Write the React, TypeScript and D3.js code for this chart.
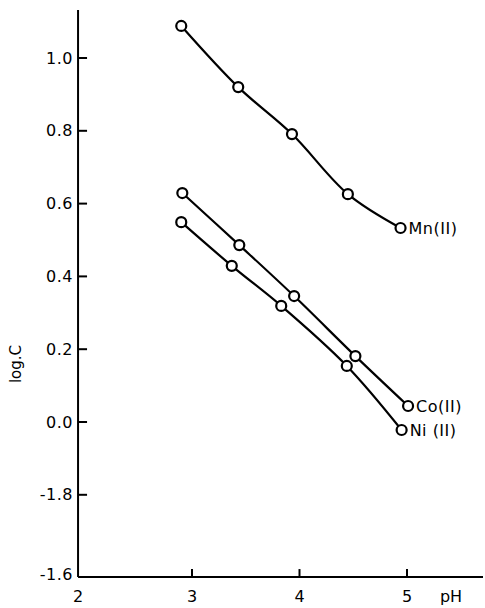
import { useEffect, useRef } from "react";
import * as d3 from "d3";

const phMn = [2.9, 3.43, 3.93, 4.45, 4.94];
const logMn = [1.088, 0.92, 0.791, 0.626, 0.533];
const phCo = [2.91, 3.44, 3.95, 4.52, 5.01];
const logCo = [0.629, 0.486, 0.346, 0.181, 0.044];
const phNi = [2.9, 3.37, 3.83, 4.44, 4.95];
const logNi = [0.549, 0.429, 0.319, 0.154, -0.022];
const seriesNames = ["Mn(II)", "Co(II)", "Ni (II)"];

const xTickValues = [2, 3, 4, 5];
const xTickLabels = ["2", "3", "4", "5"];
const yTickValues = [1.0, 0.8, 0.6, 0.4, 0.2, 0.0, -0.2];
const yTickLabels = ["1.0", "0.8", "0.6", "0.4", "0.2", "0.0", "-1.8"];
const yBottomLabel = "-1.6";

export default function App() {
  const width = 485;
  const height = 608;
  const svgRef = useRef<SVGSVGElement>(null);

  useEffect(() => {
    const svg = d3.select(svgRef.current);
    svg.selectAll("*").remove();

    const xMin = 1.94;
    const yMin = -0.426;
    const yMax = 1.132;
    const font = "'DejaVu Sans', sans-serif";

    const x = d3.scaleLinear().domain([3, 5]).range([192, 407]);
    const y = d3.scaleLinear().domain([0, 1]).range([422, 58]);

    const x0 = x(xMin);
    const y0 = y(yMin);

    // axes
    svg
      .append("line")
      .attr("x1", x0)
      .attr("x2", x0)
      .attr("y1", y(yMax))
      .attr("y2", y0)
      .attr("stroke", "#000")
      .attr("stroke-width", 2);
    svg
      .append("line")
      .attr("x1", x0)
      .attr("x2", 483)
      .attr("y1", y0)
      .attr("y2", y0)
      .attr("stroke", "#000")
      .attr("stroke-width", 2);

    // y ticks
    const yt = svg.append("g");
    yTickValues.forEach((v, i) => {
      yt.append("line")
        .attr("x1", x0)
        .attr("x2", x0 + 9)
        .attr("y1", y(v))
        .attr("y2", y(v))
        .attr("stroke", "#000")
        .attr("stroke-width", 2);
      yt.append("text")
        .attr("x", x0 - 5)
        .attr("y", y(v))
        .attr("dy", "0.35em")
        .attr("text-anchor", "end")
        .style("font-family", font)
        .style("font-size", "16px")
        .style("letter-spacing", "0.5px")
        .text(yTickLabels[i]);
    });
    yt.append("text")
      .attr("x", x0 - 5)
      .attr("y", y0)
      .attr("dy", "0.2em")
      .attr("text-anchor", "end")
      .style("font-family", font)
      .style("font-size", "16px")
      .style("letter-spacing", "0.5px")
      .text(yBottomLabel);

    // x ticks
    const xt = svg.append("g");
    xTickValues.forEach((v, i) => {
      if (v > 2) {
        xt.append("line")
          .attr("x1", x(v))
          .attr("x2", x(v))
          .attr("y1", y0)
          .attr("y2", y0 - 8)
          .attr("stroke", "#000")
          .attr("stroke-width", 2);
      }
      xt.append("text")
        .attr("x", v === 2 ? x0 : x(v))
        .attr("y", y0 + 19)
        .attr("dy", "0.35em")
        .attr("text-anchor", "middle")
        .style("font-family", font)
        .style("font-size", "16px")
        .text(xTickLabels[i]);
    });

    // axis labels
    svg
      .append("text")
      .attr("x", 451)
      .attr("y", y0 + 19)
      .attr("dy", "0.35em")
      .attr("text-anchor", "middle")
      .style("font-family", font)
      .style("font-size", "16px")
      .text("pH");
    svg
      .append("text")
      .attr("transform", "rotate(-90)")
      .attr("x", -364)
      .attr("y", 16)
      .attr("dy", "0.35em")
      .attr("text-anchor", "middle")
      .style("font-family", font)
      .style("font-size", "15px")
      .text("log.C");

    const series = [
      { name: seriesNames[0], ph: phMn, log: logMn },
      { name: seriesNames[1], ph: phCo, log: logCo },
      { name: seriesNames[2], ph: phNi, log: logNi },
    ];

    const line = d3
      .line<[number, number]>()
      .x((d) => x(d[0]))
      .y((d) => y(d[1]))
      .curve(d3.curveCatmullRom.alpha(0.5));

    series.forEach((s) => {
      const pts: [number, number][] = s.ph.map((p, i) => [p, s.log[i]]);
      svg
        .append("path")
        .attr("d", line(pts))
        .attr("fill", "none")
        .attr("stroke", "#000")
        .attr("stroke-width", 2.2);
      svg
        .append("g")
        .selectAll("circle")
        .data(pts)
        .join("circle")
        .attr("cx", (d) => x(d[0]))
        .attr("cy", (d) => y(d[1]))
        .attr("r", 5)
        .attr("fill", "#fff")
        .attr("stroke", "#000")
        .attr("stroke-width", 2.2);
      const last = pts[pts.length - 1];
      svg
        .append("text")
        .attr("x", x(last[0]) + 8)
        .attr("y", y(last[1]))
        .attr("dy", "0.35em")
        .style("font-family", font)
        .style("font-size", "16px")
        .style("letter-spacing", "0.5px")
        .text(s.name);
    });
  }, []);

  return (
    <svg
      ref={svgRef}
      width={width}
      height={height}
      style={{ position: "absolute", left: 0, top: 0, background: "#fff" }}
    />
  );
}
